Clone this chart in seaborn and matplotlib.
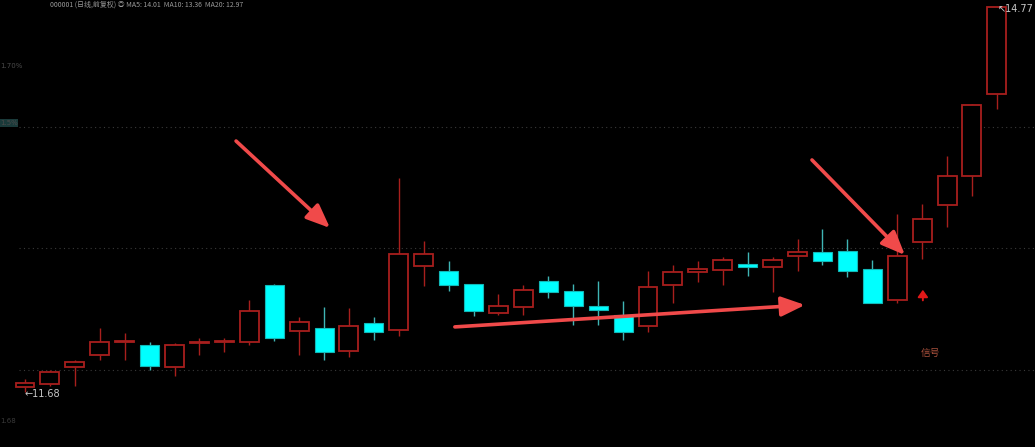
import matplotlib
matplotlib.use("Agg")
import matplotlib.pyplot as plt
import seaborn as sns
import numpy as np
import pandas as pd

# ---- data ----
opens = [11.72, 11.74, 11.88, 11.98, 12.08, 12.06, 11.88, 12.07, 12.08, 12.08,
         12.54, 12.17, 12.19, 12.01, 12.23, 12.18, 12.69, 12.65, 12.55, 12.31,
         12.36, 12.57, 12.49, 12.37, 12.30, 12.21, 12.54, 12.64, 12.66, 12.71,
         12.68, 12.77, 12.80, 12.81, 12.67, 12.42, 12.88, 13.18, 13.41, 14.07]
highs = [11.78, 11.86, 11.94, 12.19, 12.15, 12.08, 12.07, 12.11, 12.11, 12.42,
         12.55, 12.28, 12.36, 12.35, 12.28, 13.40, 12.89, 12.73, 12.55, 12.47,
         12.54, 12.61, 12.55, 12.57, 12.41, 12.65, 12.70, 12.73, 12.76, 12.80,
         12.76, 12.91, 12.99, 12.91, 12.74, 13.11, 13.19, 13.57, 13.99, 14.77]
lows = [11.68, 11.73, 11.73, 11.94, 11.94, 11.86, 11.81, 11.98, 12.00, 12.06,
        12.09, 11.98, 11.94, 11.96, 12.10, 12.13, 12.53, 12.49, 12.29, 12.30,
        12.30, 12.43, 12.22, 12.22, 12.10, 12.16, 12.39, 12.56, 12.54, 12.61,
        12.48, 12.65, 12.70, 12.60, 12.39, 12.39, 12.75, 13.00, 13.25, 13.95]
closes = [11.75, 11.84, 11.92, 12.08, 12.09, 11.89, 12.06, 12.08, 12.09, 12.33,
          12.11, 12.24, 12.00, 12.21, 12.16, 12.79, 12.79, 12.54, 12.33, 12.37,
          12.50, 12.48, 12.37, 12.34, 12.16, 12.52, 12.64, 12.67, 12.74, 12.68,
          12.74, 12.80, 12.73, 12.65, 12.39, 12.77, 13.07, 13.41, 13.98, 14.77]
grid_levels = [13.807, 12.836, 11.856]
low_label = "11.68"
high_label = "14.77"
signal_text = "信号"
signal_index = 36

df = pd.DataFrame({"open": opens, "high": highs, "low": lows, "close": closes})
df["idx"] = np.arange(len(df))

# ---- style ----
sns.set_theme(style="dark", rc={"axes.facecolor": "black", "figure.facecolor": "black",
                                "axes.edgecolor": "black", "grid.color": "black"})
plt.rcParams["font.family"] = ["DejaVu Sans", "Noto Sans CJK SC"]

RED = "#a81f1d"
CYAN = "#00ffff"
CYAN_WICK = "#3fb5b5"
ARROW = "#f04a4a"

fig = plt.figure(figsize=(10.35, 4.47), dpi=100)
ax = fig.add_axes([0, 0, 1, 1])
ax.set_facecolor("black")
ax.set_xlim(-1.003, 40.53)
ax.set_ylim(11.238, 14.826)
ax.set_axis_off()

for lv in grid_levels:
    ax.axhline(lv, xmin=0.018, xmax=1, color="#3a3a3a", lw=0.8, ls=(0, (1, 3)), zorder=0)

W = 0.76
MINH = 0.012
for _, r in df.iterrows():
    i, o, h, l, c = r["idx"], r["open"], r["high"], r["low"], r["close"]
    top, bot = max(o, c), min(o, c)
    hgt = max(top - bot, MINH)
    if c >= o:
        ax.vlines(i, top, h, color=RED, lw=1.0, zorder=2)
        ax.vlines(i, l, bot, color=RED, lw=1.0, zorder=2)
        ax.bar(i, hgt, bottom=bot, width=W, facecolor="black", edgecolor=RED,
               linewidth=1.3, zorder=3)
    else:
        ax.vlines(i, l, h, color=CYAN_WICK, lw=1.0, zorder=2)
        ax.bar(i, hgt, bottom=bot, width=W, facecolor=CYAN, edgecolor="#12b8b8",
               linewidth=0.8, zorder=3)

# ---- annotations ----
arrowprops = dict(arrowstyle="-|>,head_length=1.2,head_width=0.5", lw=2.6,
                  color=ARROW, shrinkA=0, shrinkB=0)
ax.annotate("", xy=(12.24, 12.996), xytext=(8.47, 13.694), arrowprops=arrowprops, zorder=5)
ax.annotate("", xy=(31.30, 12.378), xytext=(17.25, 12.202), arrowprops=arrowprops, zorder=5)
ax.annotate("", xy=(35.31, 12.779), xytext=(31.58, 13.542), arrowprops=arrowprops, zorder=5)

# small signal arrow and label
ax.annotate("", xy=(signal_index + 0.03, 12.50), xytext=(signal_index + 0.03, 12.415),
            arrowprops=dict(arrowstyle="-|>,head_length=0.35,head_width=0.25", lw=1.4,
                            color="#e01818", shrinkA=0, shrinkB=0), zorder=5)
ax.text(signal_index + 0.32, 11.993, signal_text, color="#a8503c", fontsize=7,
        ha="center", va="center", family=["Noto Sans CJK SC", "DejaVu Sans"], zorder=5)

ax.text(0.0, 11.664, "\u2190" + low_label, color="#c8c8c8", fontsize=7,
        ha="left", va="center", zorder=5)
ax.text(39.04, 14.754, "\u2196" + high_label, color="#c8c8c8", fontsize=7,
        ha="left", va="center", zorder=5)

# faint labels at the edges
fig.text(50 / 1035, 1 - 1 / 447, "000001 (日线,前复权) ◎ MA5: 14.01  MA10: 13.36  MA20: 12.97",
         color="#9a9a9a", fontsize=5, ha="left", va="top",
         family=["Noto Sans CJK SC", "DejaVu Sans"])
fig.text(0.0, 1 - 66 / 447, "1.70%", color="#4a4a4a", fontsize=5, ha="left", va="center")
fig.text(0.0, 1 - 123 / 447, "1.5%", color="#4a4a4a", fontsize=5, ha="left", va="center",
         bbox=dict(boxstyle="square,pad=0.1", facecolor="#1a3a3a", edgecolor="none"))
fig.text(0.0, 1 - 421 / 447, "1.68", color="#3a3a3a", fontsize=5, ha="left", va="center")

fig.savefig("out.png", dpi=100, facecolor="black")
